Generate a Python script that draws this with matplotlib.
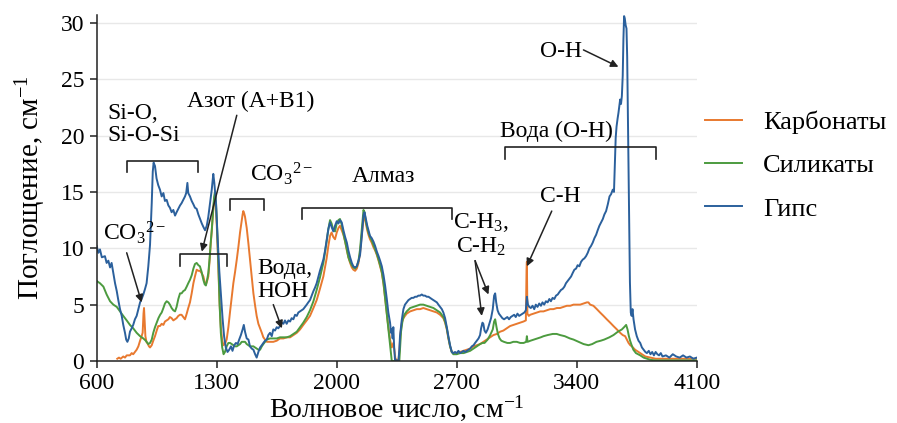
import matplotlib
matplotlib.use('Agg')
import matplotlib.pyplot as plt

plt.rcParams['font.family'] = ['Liberation Serif', 'DejaVu Serif']
plt.rcParams['mathtext.fontset'] = 'custom'
plt.rcParams['mathtext.rm'] = 'Liberation Serif'
plt.rcParams['mathtext.it'] = 'Liberation Serif:italic'

# --- data (wavenumber, absorption) ---
wn_gyps = [600, 610, 619, 630, 648, 658, 668, 678, 687, 697, 707, 717, 726, 736, 746, 755, 765, 772, 779, 787,
           794, 804, 813, 823, 833, 843, 853, 862, 872, 882, 891, 901, 911, 921, 927, 932, 940, 949, 959, 969,
           979, 989, 998, 1008, 1018, 1027, 1037, 1047, 1057, 1066, 1076, 1086, 1095, 1105, 1115, 1122, 1129, 1134, 1144, 1154,
           1164, 1173, 1183, 1193, 1203, 1213, 1222, 1232, 1242, 1251, 1261, 1271, 1280, 1286, 1296, 1305, 1315, 1324, 1334, 1343,
           1353, 1363, 1373, 1383, 1392, 1402, 1412, 1422, 1431, 1441, 1451, 1458, 1465, 1475, 1485, 1494, 1504, 1514, 1524, 1533,
           1543, 1553, 1563, 1572, 1582, 1592, 1601, 1611, 1621, 1630, 1640, 1650, 1659, 1669, 1679, 1689, 1698, 1708, 1718, 1728,
           1737, 1747, 1757, 1767, 1776, 1786, 1796, 1805, 1815, 1825, 1834, 1844, 1854, 1864, 1873, 1883, 1893, 1902, 1912, 1922,
           1932, 1941, 1951, 1961, 1970, 1980, 1990, 2000, 2010, 2019, 2029, 2039, 2049, 2059, 2068, 2078, 2088, 2097, 2107, 2117,
           2127, 2136, 2146, 2156, 2162, 2170, 2178, 2185, 2194, 2204, 2214, 2224, 2234, 2244, 2253, 2263, 2273, 2282, 2292, 2301,
           2311, 2317, 2321, 2326, 2330, 2335, 2340, 2360, 2365, 2369, 2379, 2389, 2398, 2408, 2418, 2428, 2437, 2447, 2457, 2467,
           2476, 2486, 2496, 2505, 2515, 2525, 2535, 2544, 2554, 2564, 2574, 2584, 2593, 2603, 2613, 2622, 2632, 2642, 2651, 2661,
           2671, 2680, 2690, 2700, 2710, 2720, 2730, 2740, 2749, 2759, 2769, 2778, 2788, 2798, 2807, 2817, 2827, 2836, 2842, 2850,
           2855, 2862, 2870, 2880, 2890, 2900, 2910, 2918, 2924, 2930, 2938, 2946, 2956, 2966, 2976, 2986, 2995, 3005, 3015, 3025,
           3035, 3044, 3054, 3064, 3074, 3084, 3094, 3103, 3109, 3115, 3123, 3132, 3142, 3152, 3161, 3171, 3181, 3191, 3200, 3210,
           3220, 3230, 3240, 3249, 3259, 3269, 3279, 3289, 3298, 3308, 3318, 3328, 3337, 3347, 3357, 3367, 3376, 3386, 3396, 3405,
           3415, 3425, 3435, 3444, 3454, 3464, 3474, 3483, 3493, 3503, 3513, 3522, 3532, 3542, 3552, 3561, 3571, 3581, 3591, 3600,
           3610, 3617, 3622, 3627, 3632, 3638, 3643, 3648, 3653, 3658, 3663, 3668, 3672, 3676, 3680, 3685, 3690, 3694, 3698, 3702,
           3706, 3710, 3715, 3720, 3725, 3731, 3740, 3750, 3760, 3770, 3780, 3790, 3800, 3809, 3820, 3830, 3840, 3850, 3860, 3870,
           3880, 3890, 3900, 3920, 3940, 3960, 3980, 4000, 4020, 4040, 4060, 4080, 4100]
ab_gyps = [10.2, 9.6, 9.9, 9.2, 9.3, 8.7, 8.9, 8.3, 8.7, 7.8, 6.9, 6.2, 5.4, 4.6, 4.0, 3.2, 2.5, 1.9, 1.7, 2.0,
           2.6, 2.9, 3.2, 3.7, 4.0, 4.6, 5.2, 5.5, 5.9, 6.4, 6.9, 8.4, 10.3, 14.0, 16.8, 17.6, 17.3, 16.2, 15.6, 15.2,
           14.6, 14.9, 14.2, 14.3, 13.8, 13.6, 13.2, 13.4, 12.9, 13.2, 13.5, 13.8, 14.0, 14.3, 14.6, 14.9, 15.8, 14.9, 14.6, 14.2,
           13.9, 13.6, 13.5, 13.0, 12.6, 12.2, 11.9, 11.6, 12.0, 12.8, 14.0, 15.2, 16.6, 15.8, 14.0, 11.0, 8.0, 6.0, 3.8, 2.2,
           1.2, 0.8, 1.0, 1.3, 0.9, 1.4, 1.6, 1.5, 1.9, 2.3, 2.8, 3.2, 2.6, 2.0, 1.9, 1.3, 1.1, 1.0, 0.6, 0.3,
           0.8, 1.2, 1.4, 1.6, 1.8, 1.9, 2.3, 2.5, 2.2, 2.8, 2.7, 3.0, 2.9, 3.1, 3.4, 3.3, 3.6, 3.3, 3.6, 3.5,
           3.8, 3.7, 4.1, 4.0, 4.3, 4.4, 4.5, 4.6, 4.8, 5.0, 5.2, 5.4, 5.8, 6.2, 6.5, 6.9, 7.5, 8.0, 8.5, 9.0,
           9.8, 10.7, 11.7, 12.3, 11.9, 11.5, 12.0, 12.4, 12.2, 12.5, 12.3, 11.6, 11.0, 10.5, 9.8, 9.2, 8.7, 8.4, 8.3, 8.4,
           8.9, 9.4, 11.0, 12.9, 13.2, 12.6, 12.0, 11.6, 11.1, 10.9, 10.6, 10.2, 9.7, 9.3, 8.9, 8.4, 7.6, 6.7, 5.5, 4.3,
           3.4, 2.5, 2.8, 2.0, 3.0, 1.2, 0.1, 0.0, 1.0, 2.2, 3.6, 4.6, 5.0, 5.2, 5.4, 5.5, 5.6, 5.6, 5.7, 5.7,
           5.8, 5.8, 5.9, 5.8, 5.8, 5.7, 5.7, 5.6, 5.5, 5.4, 5.3, 5.2, 5.0, 4.8, 4.6, 4.3, 3.8, 3.0, 2.2, 1.4,
           0.8, 0.7, 0.8, 0.7, 0.9, 0.7, 0.8, 0.9, 0.8, 0.9, 1.0, 1.1, 1.3, 1.4, 1.6, 1.8, 2.0, 2.3, 2.9, 3.4,
           3.3, 2.7, 2.5, 2.8, 3.3, 3.8, 4.6, 5.8, 6.0, 5.2, 4.5, 4.2, 4.0, 3.8, 3.7, 3.8, 3.9, 3.7, 3.9, 4.0,
           4.1, 3.9, 4.2, 4.0, 4.1, 4.2, 4.3, 4.5, 5.7, 5.0, 4.8, 4.7, 4.9, 4.6, 5.0, 4.8, 5.1, 4.9, 5.2, 5.0,
           5.3, 5.2, 5.5, 5.3, 5.6, 5.5, 5.8, 5.9, 6.1, 6.3, 6.4, 6.6, 6.9, 7.1, 7.3, 7.5, 7.8, 8.1, 8.2, 8.5,
           8.4, 8.8, 9.0, 9.1, 9.3, 9.6, 10.0, 10.2, 10.5, 10.9, 11.2, 11.6, 12.0, 12.3, 12.6, 13.0, 13.3, 13.9, 14.6, 14.8,
           15.2, 15.0, 17.5, 19.8, 20.8, 21.5, 22.0, 22.6, 23.2, 22.8, 23.5, 25.3, 28.5, 30.6, 30.4, 29.8, 29.5, 27.0, 22.0, 17.0,
           11.5, 7.0, 4.3, 4.0, 4.6, 3.7, 2.8, 2.2, 1.8, 1.6, 1.2, 1.0, 0.8, 0.7, 0.9, 0.6, 0.8, 0.5, 0.8, 0.6,
           0.5, 0.7, 0.4, 0.5, 0.3, 0.6, 0.4, 0.3, 0.5, 0.3, 0.4, 0.2, 0.3]

wn_sil = [600, 619, 639, 658, 678, 697, 717, 736, 755, 775, 794, 813, 833, 853, 872, 886, 901, 911, 921, 930,
          940, 950, 960, 970, 979, 989, 998, 1008, 1018, 1027, 1037, 1047, 1057, 1066, 1076, 1086, 1095, 1105, 1115, 1125,
          1134, 1144, 1154, 1164, 1173, 1183, 1193, 1202, 1212, 1222, 1230, 1237, 1244, 1251, 1258, 1265, 1271, 1278, 1285, 1290,
          1296, 1303, 1310, 1317, 1324, 1332, 1340, 1348, 1358, 1368, 1378, 1388, 1397, 1407, 1417, 1427, 1436, 1446, 1455, 1465,
          1475, 1485, 1494, 1504, 1514, 1524, 1533, 1543, 1553, 1563, 1572, 1582, 1592, 1611, 1630, 1650, 1669, 1689, 1709, 1728,
          1747, 1767, 1786, 1805, 1825, 1844, 1864, 1883, 1902, 1922, 1941, 1951, 1961, 1970, 1980, 1990, 2000, 2010, 2019, 2029,
          2039, 2049, 2059, 2068, 2078, 2088, 2097, 2107, 2117, 2127, 2136, 2146, 2156, 2162, 2170, 2178, 2185, 2194, 2204, 2214,
          2224, 2234, 2244, 2253, 2263, 2273, 2282, 2292, 2301, 2311, 2321, 2365, 2369, 2375, 2384, 2394, 2408, 2428, 2447, 2467,
          2486, 2505, 2525, 2544, 2564, 2584, 2603, 2622, 2632, 2642, 2651, 2661, 2671, 2680, 2700, 2720, 2740, 2759, 2778, 2798,
          2817, 2836, 2850, 2862, 2880, 2895, 2910, 2918, 2924, 2932, 2940, 2950, 2960, 2975, 2995, 3011, 3030, 3050, 3070, 3090,
          3105, 3109, 3113, 3130, 3150, 3170, 3190, 3206, 3230, 3260, 3283, 3303, 3330, 3360, 3381, 3410, 3440, 3468, 3490, 3515,
          3540, 3560, 3590, 3614, 3640, 3663, 3676, 3688, 3696, 3704, 3711, 3720, 3730, 3745, 3770, 3790, 3810, 3830, 3860, 4100]
ab_sil = [7.1, 6.9, 6.6, 5.9, 5.3, 5.0, 4.8, 4.4, 4.0, 3.6, 3.2, 2.9, 2.5, 2.2, 2.0, 1.8, 1.5, 1.6, 1.9, 2.5,
          3.0, 3.4, 3.8, 4.1, 4.3, 4.7, 5.1, 5.3, 5.2, 5.0, 4.7, 4.5, 4.4, 4.8, 5.5, 6.0, 6.0, 6.2, 6.3, 6.6,
          6.9, 7.2, 7.6, 8.2, 8.6, 8.7, 8.5, 8.4, 7.9, 7.2, 6.8, 6.7, 7.2, 7.8, 9.0, 10.5, 11.6, 13.2, 14.6, 15.0,
          14.0, 11.5, 8.5, 5.0, 2.5, 1.2, 0.6, 0.8, 1.3, 1.6, 1.6, 1.5, 1.4, 1.3, 1.3, 1.4, 1.5, 1.7, 1.7, 1.7,
          1.5, 1.4, 1.3, 1.3, 1.3, 1.2, 1.1, 1.0, 1.0, 1.3, 1.5, 1.7, 1.9, 2.0, 2.0, 2.0, 2.1, 2.1, 2.1, 2.2,
          2.4, 2.6, 3.0, 3.4, 3.9, 4.5, 5.3, 6.3, 7.4, 8.7, 10.6, 11.7, 12.5, 12.2, 11.6, 11.5, 12.2, 12.5, 12.6, 12.1,
          11.3, 10.6, 9.9, 9.2, 8.8, 8.5, 8.3, 8.2, 8.4, 8.9, 9.9, 11.6, 13.4, 13.2, 12.4, 11.8, 11.4, 11.0, 10.7, 10.3,
          9.9, 9.5, 9.0, 8.5, 7.9, 6.9, 5.6, 4.2, 2.8, 1.4, 0.0, 0.0, 1.0, 2.6, 3.6, 4.1, 4.4, 4.7, 4.8, 4.9,
          5.0, 5.0, 4.9, 4.8, 4.7, 4.5, 4.3, 3.9, 3.5, 2.9, 2.1, 1.3, 0.8, 0.6, 0.6, 0.7, 0.7, 0.8, 0.9, 1.1,
          1.3, 1.5, 1.6, 1.6, 1.9, 2.3, 2.8, 3.5, 3.7, 3.0, 2.4, 2.0, 1.8, 1.7, 1.6, 1.6, 1.7, 1.7, 1.6, 1.6,
          1.7, 2.2, 1.7, 1.8, 1.9, 2.0, 2.1, 2.2, 2.3, 2.4, 2.4, 2.3, 2.2, 2.0, 1.9, 1.7, 1.5, 1.4, 1.5, 1.7,
          1.8, 1.9, 2.1, 2.3, 2.6, 2.8, 3.0, 3.2, 2.8, 2.2, 1.8, 1.4, 1.0, 0.7, 0.5, 0.3, 0.2, 0.1, 0.05, 0.05]

wn_carb = [720, 730, 740, 755, 765, 775, 794, 804, 813, 823, 833, 843, 853, 862, 868, 873, 876, 879, 884, 890,
           895, 905, 911, 921, 930, 940, 950, 959, 969, 979, 989, 998, 1008, 1018, 1027, 1037, 1047, 1057, 1066, 1076,
           1086, 1095, 1105, 1115, 1125, 1134, 1144, 1154, 1164, 1173, 1183, 1193, 1202, 1212, 1222, 1230, 1237, 1244, 1251, 1258,
           1265, 1271, 1278, 1285, 1290, 1296, 1303, 1310, 1317, 1324, 1332, 1340, 1350, 1358, 1368, 1378, 1388, 1397, 1407, 1417,
           1427, 1436, 1446, 1451, 1455, 1460, 1465, 1475, 1485, 1494, 1504, 1514, 1524, 1533, 1543, 1553, 1563, 1572, 1582, 1592,
           1611, 1630, 1650, 1669, 1689, 1709, 1728, 1747, 1767, 1786, 1805, 1825, 1844, 1864, 1883, 1902, 1922, 1941, 1951, 1961,
           1970, 1980, 1990, 2000, 2010, 2019, 2029, 2039, 2049, 2059, 2068, 2078, 2088, 2097, 2107, 2117, 2127, 2136, 2146, 2156,
           2162, 2170, 2178, 2185, 2194, 2204, 2214, 2224, 2234, 2244, 2253, 2263, 2273, 2282, 2292, 2301, 2311, 2321, 2330, 2336,
           2342, 2360, 2366, 2372, 2380, 2389, 2398, 2408, 2428, 2447, 2467, 2486, 2505, 2525, 2544, 2564, 2584, 2603, 2622, 2632,
           2642, 2651, 2661, 2671, 2680, 2700, 2720, 2740, 2759, 2778, 2798, 2817, 2836, 2855, 2875, 2895, 2914, 2934, 2953, 2972,
           2992, 3011, 3031, 3050, 3070, 3089, 3103, 3107, 3109, 3112, 3120, 3128, 3148, 3167, 3187, 3206, 3226, 3245, 3264, 3284,
           3303, 3323, 3342, 3362, 3381, 3400, 3420, 3440, 3459, 3468, 3478, 3497, 3517, 3536, 3556, 3575, 3595, 3614, 3634, 3653,
           3668, 3682, 3692, 3702, 3712, 3721, 3740, 3760, 3780, 3800, 3830, 3860, 3900, 3950, 4000, 4050, 4100]
ab_carb = [0.2, 0.3, 0.2, 0.4, 0.3, 0.5, 0.5, 0.7, 0.6, 0.8, 1.0, 1.3, 1.8, 2.2, 2.5, 4.2, 4.7, 3.8, 2.2, 1.7,
           1.6, 1.3, 1.2, 1.4, 1.8, 2.2, 2.7, 3.1, 3.1, 3.3, 3.2, 3.5, 3.6, 3.7, 3.9, 3.8, 3.6, 3.7, 3.8, 4.0,
           4.1, 4.1, 3.9, 3.7, 4.2, 4.7, 5.2, 6.0, 6.9, 7.5, 8.1, 8.0, 8.0, 7.8, 7.5, 7.0, 6.8, 7.1, 7.5, 8.8,
           10.4, 11.5, 13.0, 14.3, 14.6, 13.6, 11.0, 8.0, 5.0, 3.0, 1.8, 1.4, 1.6, 1.9, 3.0, 4.4, 5.7, 6.9, 7.9, 9.0,
           10.2, 11.4, 12.5, 13.0, 13.3, 13.1, 12.8, 11.8, 10.4, 9.0, 7.5, 6.0, 4.9, 4.0, 3.3, 2.9, 2.5, 2.1, 1.9, 1.7,
           1.7, 1.7, 1.8, 2.0, 2.0, 2.1, 2.1, 2.3, 2.5, 2.8, 3.2, 3.6, 4.0, 4.7, 5.4, 6.4, 7.5, 9.1, 10.2, 11.1,
           11.4, 11.0, 10.8, 11.4, 11.8, 12.0, 11.6, 11.2, 10.6, 9.8, 9.2, 8.7, 8.3, 8.1, 8.0, 8.2, 8.7, 9.6, 11.2, 12.6,
           12.9, 12.2, 11.6, 11.2, 10.8, 10.5, 10.1, 9.8, 9.4, 8.9, 8.4, 7.8, 6.8, 5.6, 4.3, 3.0, 1.9, 1.2, 1.6, 1.0,
           0.2, 0.0, 1.0, 2.5, 3.4, 3.8, 4.0, 4.2, 4.4, 4.5, 4.6, 4.6, 4.7, 4.6, 4.5, 4.4, 4.3, 4.1, 3.8, 3.4,
           2.8, 2.0, 1.3, 0.8, 0.7, 0.7, 0.8, 0.9, 1.0, 1.1, 1.3, 1.4, 1.5, 1.7, 1.9, 2.1, 2.3, 2.4, 2.6, 2.7,
           2.9, 3.1, 3.2, 3.3, 3.4, 3.5, 3.6, 8.0, 8.8, 4.2, 4.0, 4.1, 4.2, 4.3, 4.4, 4.4, 4.5, 4.6, 4.6, 4.7,
           4.7, 4.8, 4.9, 4.9, 5.0, 5.0, 5.0, 5.1, 5.2, 5.2, 5.0, 4.9, 4.6, 4.3, 4.0, 3.7, 3.4, 3.1, 2.8, 2.5,
           2.3, 2.2, 1.9, 1.6, 1.4, 1.3, 1.0, 0.8, 0.6, 0.4, 0.3, 0.2, 0.2, 0.2, 0.2, 0.2, 0.2]

labels = ['Карбонаты', 'Силикаты', 'Гипс']
colors = ['#e8792f', '#4c9b3f', '#2b609c']
x_ticks = [600, 1300, 2000, 2700, 3400, 4100]
y_ticks = [0, 5, 10, 15, 20, 25, 30]

fig = plt.figure(figsize=(8.97, 4.23), dpi=100)
ax = fig.add_axes([0.1078, 0.1466, 0.669, 0.818])

ax.plot(wn_carb, ab_carb, color=colors[0], lw=1.4, label=labels[0])
ax.plot(wn_sil, ab_sil, color=colors[1], lw=1.4, label=labels[1])
ax.plot(wn_gyps, ab_gyps, color=colors[2], lw=1.4, label=labels[2])

ax.set_xlim(600, 4100)
ax.set_ylim(0, 30.7)
ax.set_xticks(x_ticks)
ax.set_yticks(y_ticks)
ax.tick_params(labelsize=17, direction='out', length=5, width=1.1, pad=4, color='#222222')
ax.yaxis.grid(True, color='#e8e8e8', lw=1.0)
ax.set_axisbelow(True)
for s in ['top', 'right']:
    ax.spines[s].set_visible(False)
for s in ['left', 'bottom']:
    ax.spines[s].set_linewidth(1.1)
    ax.spines[s].set_color('#222222')

ax.set_xlabel('Волновое число, см$^{-1}$', fontsize=20, labelpad=-1)
ax.set_ylabel('Поглощение, см$^{-1}$', fontsize=21, labelpad=9)

ax.legend(loc='center left', bbox_to_anchor=(1.0, 0.565), frameon=False, fontsize=19,
          handlelength=1.4, handletextpad=0.8, labelspacing=0.75, borderaxespad=0, borderpad=0.3)

fs = 17


def bracket(x0, x1, ytop, ybot):
    ax.plot([x0, x0, x1, x1], [ybot, ytop, ytop, ybot], color='#222222', lw=1.2, clip_on=False)


def arrow(x0, y0, x1, y1):
    ax.annotate('', xy=(x1, y1), xytext=(x0, y0),
                arrowprops=dict(arrowstyle='-|>', color='#222222', lw=1.1, mutation_scale=11,
                                shrinkA=0, shrinkB=0))


# brackets over bands
bracket(775, 1189, 17.7, 16.8)
bracket(1086, 1358, 9.5, 8.4)
bracket(1378, 1578, 14.4, 13.4)
bracket(1796, 2671, 13.6, 12.6)
bracket(2982, 3863, 19.0, 17.9)

ax.text(660, 21.0, 'Si-O,\nSi-O-Si', fontsize=fs, ha='left', va='center', linespacing=1.1)
ax.text(637, 11.4, 'CO$_3$$^{2-}$', fontsize=fs, ha='left', va='center')
arrow(775, 9.6, 862, 5.2)
ax.text(1127, 23.0, 'Азот (A+B1)', fontsize=fs, ha='left', va='center')
arrow(1417, 21.8, 1213, 9.7)
ax.text(1494, 16.6, 'CO$_3$$^{2-}$', fontsize=fs, ha='left', va='center')
ax.text(2270, 16.4, 'Алмаз', fontsize=fs, ha='center', va='center')
ax.text(1535, 7.2, 'Вода,\nHOH', fontsize=fs, ha='left', va='center', linespacing=1.1)
arrow(1630, 5.0, 1680, 2.9)
ax.text(2842, 11.2, 'C-H$_3$,\nC-H$_2$', fontsize=fs, ha='center', va='center',
        multialignment='center', linespacing=1.1)
arrow(2807, 8.9, 2846, 4.0)
arrow(2807, 8.9, 2885, 5.9)
ax.text(3302, 14.6, 'C-H', fontsize=fs, ha='center', va='center')
arrow(3254, 13.3, 3109, 8.4)
ax.text(3280, 20.4, 'Вода (O-H)', fontsize=fs, ha='center', va='center')
ax.text(3306, 27.5, 'O-H', fontsize=fs, ha='center', va='center')
arrow(3439, 27.6, 3643, 26.1)

fig.savefig('out.png', dpi=100)
